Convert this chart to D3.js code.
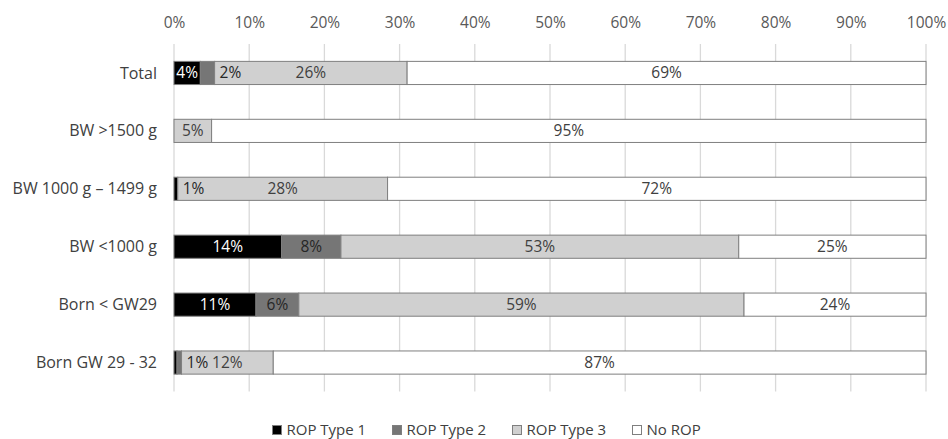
<!DOCTYPE html>
<html>
<head>
<meta charset="utf-8">
<script src="https://cdn.jsdelivr.net/npm/d3@7/dist/d3.min.js"></script>
<style>
  html, body { margin: 0; padding: 0; background: #fff; }
  svg { display: block; font-family: "Open Sans", sans-serif; }
</style>
</head>
<body>
<svg id="chart" width="948" height="439"></svg>
<script>
// Share of infants by ROP outcome, per group (percent)
const categories = ["Total", "BW >1500 g", "BW 1000 g \u2013 1499 g", "BW <1000 g", "Born < GW29", "Born GW 29 - 32"];
const seriesNames = ["ROP Type 1", "ROP Type 2", "ROP Type 3", "No ROP"];
const ropType1 = [3.5, 0, 0.5, 14.3, 10.9, 0.4];
const ropType2 = [1.9, 0, 0, 7.9, 5.7, 0.6];
const ropType3 = [25.6, 5.0, 27.9, 52.9, 59.2, 12.2];
const noRop    = [69.0, 95.0, 71.6, 24.9, 24.2, 86.8];
const tickValues = [0, 10, 20, 30, 40, 50, 60, 70, 80, 90, 100];

const fills = ["#000000", "#767676", "#d0d0d0", "#ffffff"];
const labelColors = ["#ffffff", "#262626", "#404040", "#404040"];
const fontSize = "15.5px";

const svg = d3.select("#chart");
const x = d3.scaleLinear().domain([0, 100]).range([174, 926]);
const y = d3.scaleBand().domain(categories).range([44, 391.5]).paddingInner(0.6).paddingOuter(0.3);

const rows = categories.map((c, i) => ({ key: c, "ROP Type 1": ropType1[i], "ROP Type 2": ropType2[i], "ROP Type 3": ropType3[i], "No ROP": noRop[i] }));
const stacked = d3.stack().keys(seriesNames)(rows);

// vertical gridlines
svg.append("g").selectAll("line").data(tickValues).join("line")
  .attr("x1", d => x(d)).attr("x2", d => x(d))
  .attr("y1", 44).attr("y2", 391.5)
  .attr("stroke", "#d9d9d9").attr("stroke-width", 1.3);

// top axis labels
const axis = svg.append("g").attr("transform", "translate(0,28)")
  .call(d3.axisTop(x).tickValues(tickValues).tickFormat(d => d + "%").tickSize(0).tickPadding(0));
axis.select(".domain").remove();
axis.selectAll("text").attr("fill", "#595959").style("font-size", fontSize).style("font-family", "'Open Sans', sans-serif");

// category labels
svg.append("g").selectAll("text").data(categories).join("text")
  .attr("x", 157).attr("y", d => y(d) + y.bandwidth() / 2)
  .attr("dy", "0.35em").attr("text-anchor", "end")
  .attr("fill", "#404040").style("font-size", "16px")
  .text(d => d);

// stacked bars
const layers = svg.append("g").selectAll("g").data(stacked).join("g")
  .attr("fill", (d, i) => fills[i]);
layers.selectAll("rect").data(d => d.filter(p => p[1] - p[0] > 0)).join("rect")
  .attr("x", p => x(p[0])).attr("width", p => x(p[1]) - x(p[0]))
  .attr("y", p => y(p.data.key)).attr("height", y.bandwidth())
  .attr("stroke", "#7f7f7f").attr("stroke-width", 1);

// value labels
const labelG = svg.append("g").style("font-size", fontSize);
stacked.forEach((layer, si) => {
  layer.forEach(p => {
    const v = p[1] - p[0];
    const rounded = Math.round(v);
    if (rounded < 1) return;
    const txt = labelG.append("text")
      .attr("y", y(p.data.key) + y.bandwidth() / 2)
      .attr("dy", "0.35em").attr("text-anchor", "middle")
      .text(rounded + "%");
    const w = txt.node().getComputedTextLength();
    const segW = x(p[1]) - x(p[0]);
    let cx = (x(p[0]) + x(p[1])) / 2;
    let color = labelColors[si];
    if (w + 4 > segW) {
      // too narrow: place the label just past the segment
      cx = x(p[1]) + 5 + w / 2;
      color = "#262626";
    }
    txt.attr("x", cx).attr("fill", color);
  });
});

// legend
const legend = svg.append("g").style("font-size", "15px");
let lx = 272.5;
seriesNames.forEach((name, i) => {
  legend.append("rect").attr("x", lx).attr("y", 425.5).attr("width", 9).attr("height", 9)
    .attr("fill", fills[i]).attr("stroke", "#7f7f7f").attr("stroke-width", 1);
  const t = legend.append("text").attr("x", lx + 14).attr("y", 430).attr("dy", "0.35em")
    .attr("fill", "#404040").text(name);
  lx += 120;
});
</script>
</body>
</html>
